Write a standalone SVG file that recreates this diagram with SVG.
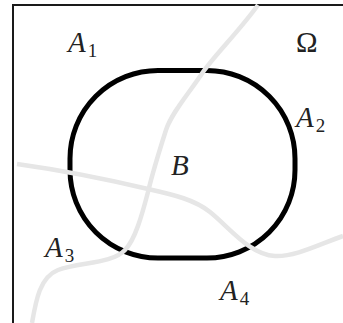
<svg xmlns="http://www.w3.org/2000/svg" width="343" height="323" viewBox="0 0 343 323">
<style>
.frame{fill:none;stroke:#1a1a1a;stroke-width:2}
.region{fill:none;stroke:#000;stroke-width:5}
.path{fill:none;stroke:#e6e6e6;stroke-width:4.5;stroke-linecap:butt}
text{font-family:'Liberation Serif','Times New Roman',serif;font-size:29px;fill:#222}
.it{font-style:italic}
.sub{font-size:19px;font-style:normal}
</style>
<rect width="343" height="323" fill="#fff"/>
<g id="frame"><path class="frame" d="M13 323 V5 H343"/></g>
<g id="B-region"><rect class="region" x="70" y="70.5" width="225" height="187.5" rx="88" ry="88"/></g>
<g id="connectors">
<path class="path" d="M258 5 C240 30 215 55 203 72 C190 92 172 112 166 130 C158 155 152 175 148 192 C142 215 135 240 125 250 C112 264 80 262 58 270 C40 277 36 300 32 323"/>
<path class="path" d="M17 164 C60 170 110 180 148 189 C175 195 195 200 210 212 C230 228 250 255 275 256 C295 257 320 244 343 236"/>
</g>
<g id="A1"><text x="68" y="52"><tspan class="it">A</tspan><tspan class="sub" dx="2" dy="5">1</tspan></text></g>
<g id="Omega"><text x="296" y="52">Ω</text></g>
<g id="A2"><text x="296" y="127"><tspan class="it">A</tspan><tspan class="sub" dx="2" dy="5">2</tspan></text></g>
<g id="B"><text class="it" x="171" y="175">B</text></g>
<g id="A3"><text x="45" y="257"><tspan class="it">A</tspan><tspan class="sub" dx="2" dy="5">3</tspan></text></g>
<g id="A4"><text x="220" y="300"><tspan class="it">A</tspan><tspan class="sub" dx="2" dy="5">4</tspan></text></g>
</svg>
